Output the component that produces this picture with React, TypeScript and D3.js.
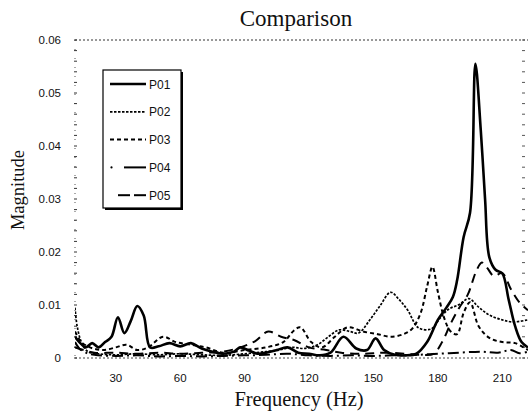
import React from "react";
import * as d3 from "d3";

const title = "Comparison";
const xLabel = "Frequency (Hz)";
const yLabel = "Magnitude";
const xTicks = [30, 60, 90, 120, 150, 180, 210];
const yTicks = [0, 0.01, 0.02, 0.03, 0.04, 0.05, 0.06];
const seriesNames = ["P01", "P02", "P03", "P04", "P05"];

const p01F = [11, 13, 16, 19, 22, 25, 28, 31, 34, 37, 40, 43, 46, 50, 55, 60, 65, 70, 75, 80, 85, 88, 92, 96, 100, 105, 110, 115, 120, 125, 130, 136, 142, 147, 151, 155, 160, 165, 170, 175, 180, 184, 187, 189, 192, 195, 197.5, 200, 202, 204, 207, 210, 213, 216, 219, 222];
const p01V = [0.004, 0.003, 0.002, 0.0028, 0.002, 0.003, 0.004, 0.0077, 0.0047, 0.007, 0.0098, 0.008, 0.002, 0.0022, 0.0028, 0.0022, 0.0028, 0.0018, 0.0012, 0.0008, 0.0012, 0.002, 0.0014, 0.0008, 0.001, 0.0015, 0.002, 0.001, 0.0008, 0.0005, 0.001, 0.004, 0.0018, 0.0015, 0.0037, 0.0015, 0.0006, 0.0005, 0.0008, 0.003, 0.0072, 0.0095, 0.0115, 0.0147, 0.0228, 0.0274, 0.0555, 0.043, 0.03, 0.019, 0.0166, 0.016, 0.011, 0.006, 0.003, 0.002];

const p02F = [11, 12, 14, 17, 22, 30, 40, 50, 60, 70, 80, 90, 100, 106, 112, 118, 124, 129, 134, 139, 143, 148, 153, 158, 162, 166, 171, 177, 181, 185, 190, 194.5, 199, 204, 210, 215, 222];
const p02V = [0.0095, 0.006, 0.003, 0.0012, 0.0008, 0.0006, 0.0008, 0.0006, 0.0008, 0.0006, 0.0005, 0.0008, 0.0012, 0.0015, 0.002, 0.0018, 0.0025, 0.004, 0.0053, 0.005, 0.0047, 0.007, 0.0098, 0.0124, 0.011, 0.009, 0.0057, 0.0055, 0.0075, 0.0092, 0.0101, 0.0112, 0.0096, 0.0081, 0.0072, 0.0068, 0.0072];

const p03F = [11, 14, 18, 24, 30, 35, 40, 45, 52, 58, 65, 72, 80, 90, 100, 108, 113, 116, 121, 126, 132, 138, 145, 152, 158, 164, 168, 172, 175, 177.5, 180, 183, 186, 189, 192, 195, 199, 204, 210, 216, 222];
const p03V = [0.005, 0.003, 0.002, 0.0015, 0.002, 0.0025, 0.0015, 0.002, 0.004, 0.003, 0.0025, 0.002, 0.001, 0.0015, 0.002, 0.003, 0.0052, 0.0058, 0.003, 0.002, 0.004, 0.0058, 0.005, 0.0045, 0.004, 0.0045, 0.0055, 0.0085, 0.0135, 0.0172, 0.0125, 0.0075, 0.005, 0.0045, 0.0085, 0.0105, 0.006, 0.0038, 0.003, 0.0028, 0.0015];

const p04F = [11, 13, 16, 20, 30, 40, 50, 60, 70, 80, 90, 100, 110, 120, 130, 140, 150, 160, 170, 180, 190, 200, 208, 214, 218, 222];
const p04V = [0.003, 0.0018, 0.001, 0.0006, 0.0004, 0.0005, 0.0003, 0.0004, 0.0003, 0.0004, 0.0005, 0.0006, 0.0008, 0.0005, 0.0004, 0.0005, 0.0004, 0.0005, 0.0006, 0.0008, 0.001, 0.0012, 0.001, 0.0015, 0.0009, 0.0012];

const p05F = [11, 15, 20, 30, 40, 50, 60, 70, 80, 88, 95, 101, 107, 113, 120, 128, 135, 145, 155, 165, 172, 178, 182, 186, 190, 194, 198, 200.5, 203, 206, 210, 214, 218, 222];
const p05V = [0.002, 0.0015, 0.001, 0.001, 0.0008, 0.001, 0.0008, 0.001, 0.0012, 0.002, 0.0032, 0.005, 0.004, 0.0034, 0.002, 0.0015, 0.001, 0.0008, 0.001, 0.0008, 0.0006, 0.0008, 0.003, 0.0065, 0.0095, 0.012, 0.0165, 0.018, 0.017, 0.0155, 0.016, 0.013, 0.0105, 0.009];

const seriesF = [p01F, p02F, p03F, p04F, p05F];
const seriesV = [p01V, p02V, p03V, p04V, p05V];

const styles = [
  { w: 2.6, dash: "" },
  { w: 1.7, dash: "2.5,1.5" },
  { w: 2, dash: "4,3" },
  { w: 2, dash: "11,4,2,4" },
  { w: 2, dash: "9,6" },
];

export default function App() {
  const W = 528, H = 416;
  const x = d3.scaleLinear().domain([11, 222]).range([75, 528]);
  const y = d3.scaleLinear().domain([0, 0.06]).range([358, 40]);
  const line = d3
    .line<[number, number]>()
    .x((d) => x(d[0]))
    .y((d) => y(d[1]))
    .curve(d3.curveCatmullRom.alpha(0.5));
  const minor = d3.range(0, 0.0601, 0.002);
  const sans = "'Liberation Sans', Arial, sans-serif";
  const serif = "'Liberation Serif', 'Times New Roman', serif";
  return (
    <svg width={W} height={H} style={{ position: "absolute", left: 0, top: 0, background: "#fff" }}>
      <defs>
        <clipPath id="plot">
          <rect x={75} y={38} width={453} height={322} />
        </clipPath>
      </defs>
      <text x={296} y={26} textAnchor="middle" fontFamily={serif} fontSize={23} fill="#111">
        {title}
      </text>
      {/* frame */}
      <line x1={75} x2={528} y1={y(0.06)} y2={y(0.06)} stroke="#333" strokeWidth={1} strokeDasharray="2,2" />
      <line x1={75} x2={528} y1={y(0)} y2={y(0)} stroke="#444" strokeWidth={1} strokeDasharray="2,2" />
      <line x1={75} x2={75} y1={y(0.06)} y2={y(0)} stroke="#555" strokeWidth={1} strokeDasharray="1,8" />
      {minor.map((m, i) => (
        <line key={"mn" + i} x1={74} x2={77} y1={y(m)} y2={y(m)} stroke="#333" strokeWidth={1} />
      ))}
      {minor.map((m, i) => (
        <line key={"mr" + i} x1={522} x2={525} y1={y(m)} y2={y(m)} stroke="#555" strokeWidth={1} />
      ))}
      {yTicks.map((t) => (
        <text key={"y" + t} x={61} y={y(t) + 4} textAnchor="end" fontFamily={sans} fontSize={11.5} fill="#111">
          {t === 0 ? "0" : d3.format(".2f")(t)}
        </text>
      ))}
      {xTicks.map((t) => (
        <text key={"x" + t} x={x(t)} y={382} textAnchor="middle" fontFamily={sans} fontSize={11.5} fill="#111">
          {t}
        </text>
      ))}
      <text x={299} y={406} textAnchor="middle" fontFamily={serif} fontSize={20.5} fill="#111">
        {xLabel}
      </text>
      <text transform="translate(24,190) rotate(-90)" textAnchor="middle" fontFamily={serif} fontSize={18.5} fill="#111">
        {yLabel}
      </text>
      <g clipPath="url(#plot)">
        {seriesNames.map((n, i) => (
          <path
            key={n}
            d={line(seriesF[i].map((f, j) => [f, seriesV[i][j]]) as [number, number][]) || ""}
            fill="none"
            stroke="#000"
            strokeWidth={styles[i].w}
            strokeDasharray={styles[i].dash}
            strokeLinejoin="round"
          />
        ))}
      </g>
      {/* legend */}
      <rect x={105} y={72} width={78} height={138} fill="#000" />
      <rect x={103} y={70} width={78} height={138} fill="#fff" stroke="#000" strokeWidth={1.2} />
      {seriesNames.map((n, i) => {
        const ly = 84 + i * 27.8;
        return (
          <g key={"lg" + n}>
            {i === 3 ? (
              <>
                <circle cx={111.5} cy={ly} r={1.1} fill="#000" />
                <line x1={124} x2={146} y1={ly} y2={ly} stroke="#000" strokeWidth={2} />
              </>
            ) : i === 4 ? (
              <>
                <line x1={118} x2={130} y1={ly} y2={ly} stroke="#000" strokeWidth={2} />
                <line x1={134} x2={146} y1={ly} y2={ly} stroke="#000" strokeWidth={2} />
              </>
            ) : (
              <line
                x1={110}
                x2={146}
                y1={ly}
                y2={ly}
                stroke="#000"
                strokeWidth={styles[i].w}
                strokeDasharray={styles[i].dash}
              />
            )}
            <text x={149} y={ly + 4.5} fontFamily={sans} fontSize={12} fill="#111">
              {n}
            </text>
          </g>
        );
      })}
    </svg>
  );
}
